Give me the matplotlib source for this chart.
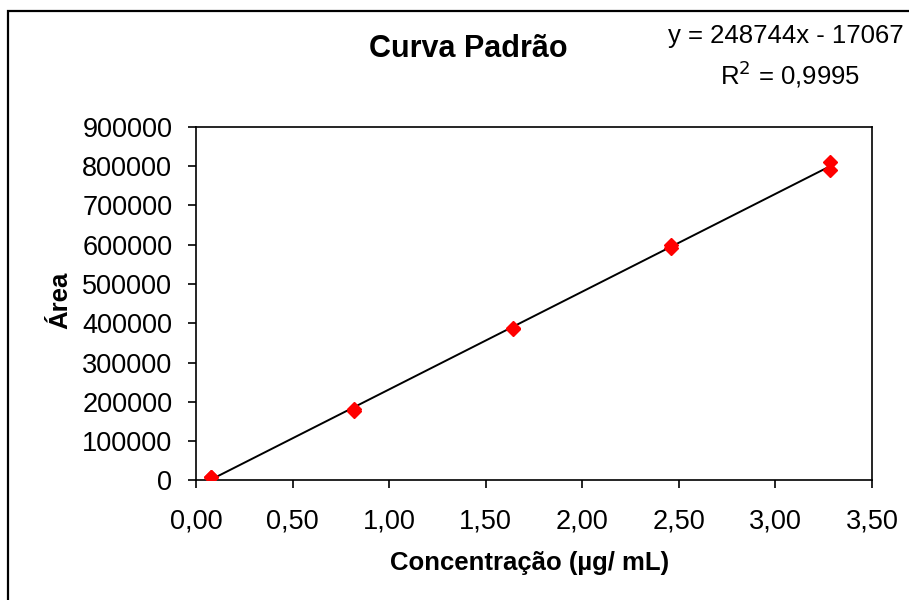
import matplotlib
matplotlib.use('Agg')
import matplotlib.pyplot as plt
from matplotlib.patches import Rectangle
import numpy as np

# data
concentracao = [0.08, 0.08, 0.82, 0.82, 1.64, 1.64, 2.46, 2.46, 3.28, 3.28]
area = [8000, 9000, 176000, 181000, 385000, 388000, 592000, 600000, 790000, 811000]
slope = 248744
intercept = -17067
r2_text = '0,9995'

x_ticks = [0.0, 0.5, 1.0, 1.5, 2.0, 2.5, 3.0, 3.5]
y_ticks = [0, 100000, 200000, 300000, 400000, 500000, 600000, 700000, 800000, 900000]

plt.rcParams['font.family'] = ['Liberation Sans', 'DejaVu Sans']

fig = plt.figure(figsize=(9.09, 6.0), dpi=100)
ax = fig.add_axes([0.2156, 0.1992, 0.7437, 0.5896])

# outer chart border (clipped at right and bottom like the original)
fig.patches.append(Rectangle((0.0088, -0.05), 1.2, 1.0317, transform=fig.transFigure,
                             fill=False, edgecolor='black', linewidth=1.6))

# trendline
xl = np.array([min(concentracao), max(concentracao)])
ax.plot(xl, slope * xl + intercept, color='black', linewidth=1.4, zorder=2)

# points
ax.plot(concentracao, area, linestyle='none', marker='D', markersize=7.5,
        color='red', markeredgecolor='red', zorder=3)

ax.set_xlim(0, 3.5)
ax.set_ylim(0, 900000)
ax.set_xticks(x_ticks)
ax.set_xticklabels([f'{v:.2f}'.replace('.', ',') for v in x_ticks])
ax.set_yticks(y_ticks)
ax.set_yticklabels([str(v) for v in y_ticks])
ax.tick_params(direction='out', length=6, width=1.2, labelsize=19.5)
ax.tick_params(axis='x', pad=14)
ax.tick_params(axis='y', pad=11)
for s in ax.spines.values():
    s.set_linewidth(1.2)

fig.text(0.5148, 0.918, 'Curva Padrão', ha='center', va='center', fontsize=22, fontweight='bold')
fig.text(0.0660, 0.500, 'Área', ha='center', va='center', rotation=90, fontsize=18.5, fontweight='bold')
fig.text(0.5830, 0.0617, 'Concentração (µg/ mL)', ha='center', va='center', fontsize=18.5, fontweight='bold')

fig.text(0.865, 0.940, f'y = {slope}x - {abs(intercept)}', ha='center', va='center', fontsize=18.5)
fig.text(0.869, 0.876, f'R$^2$ = {r2_text}', ha='center', va='center', fontsize=18.5)

fig.savefig('out.png', dpi=100)
